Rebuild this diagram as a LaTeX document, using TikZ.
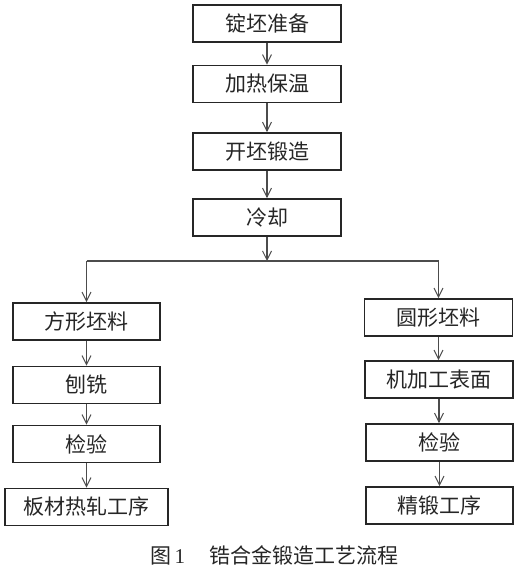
\documentclass[tikz,border=0pt]{standalone}
\usepackage{fontspec}
\setmainfont{Liberation Serif}
\newfontfamily\cjk{Noto Sans CJK SC}
\usetikzlibrary{arrows.meta}
\begin{document}
\begin{tikzpicture}[x=1pt,y=-1pt,
  stepbox/.style={draw=black!85,line width=1.6pt,minimum width=148pt,minimum height=37pt,inner sep=0pt,font=\cjk\fontsize{21}{21}\selectfont,text=black!85},
  flow/.style={draw=black!70,line width=1.2pt,-{Straight Barb[length=9pt,width=9pt,line width=1pt]}},
  link/.style={draw=black!70,line width=1.2pt}]
\useasboundingbox (0,0) rectangle (518,570);
\fill[white] (0,0) rectangle (518,570);
\node[stepbox] (t1) at (267,23.5) {锭坯准备};
\node[stepbox] (t2) at (267,84) {加热保温};
\node[stepbox] (t3) at (267,151.5) {开坯锻造};
\node[stepbox] (t4) at (267,217.5) {冷却};
\coordinate (b) at (267,261);
\coordinate (bl) at (86.5,261);
\coordinate (br) at (438.5,261);
\node[stepbox,minimum width=147pt] (l1) at (86.5,321.5) {方形坯料};
\node[stepbox,minimum width=147pt] (l2) at (86.5,385) {刨铣};
\node[stepbox,minimum width=147pt] (l3) at (86.5,444) {检验};
\node[stepbox,minimum width=163pt] (l4) at (86.5,507) {板材热轧工序};
\node[stepbox] (r1) at (438.5,317.5) {圆形坯料};
\node[stepbox] (r2) at (439,379.5) {机加工表面};
\node[stepbox,minimum width=147pt] (r3) at (439.5,442.5) {检验};
\node[stepbox,minimum width=147pt] (r4) at (439.5,505.5) {精锻工序};
\draw[flow] (t1) -- (t2);
\draw[flow] (t2) -- (t3);
\draw[flow] (t3) -- (t4);
\draw[flow] (t4) -- (b);
\draw[link] (bl) -- (br);
\draw[flow] (bl) -- (l1);
\draw[flow] (br) -- (r1);
\draw[flow] (l1) -- (l2);
\draw[flow] (l2) -- (l3);
\draw[flow] (l3) -- (l4);
\draw[flow] (r1.south) -- (r2.north-|r1.south);
\draw[flow] (r2.south) -- (r3.north-|r2.south);
\draw[flow] (r3.south) -- (r4.north-|r3.south);
\node[anchor=west,inner sep=0pt,font=\fontsize{21}{21}\selectfont,text=black!85] (cap) at (150,555) {{\cjk 图}\,1\hspace{24pt}{\cjk 锆合金锻造工艺流程}};
\end{tikzpicture}
\end{document}
